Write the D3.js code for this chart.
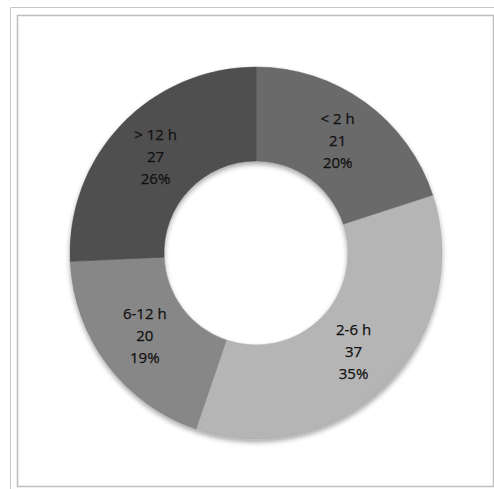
<!DOCTYPE html>
<html>
<head>
<meta charset="utf-8">
<script src="https://cdn.jsdelivr.net/npm/d3@7"></script>
<style>
    body { margin: 0; background: #fff; }
</style>
</head>
<body>
<div id="chart"></div>
<script>
var categories = ['< 2 h', '2-6 h', '6-12 h', '> 12 h'];
var values = [21, 37, 20, 27];
var percentLabels = ['20%', '35%', '19%', '26%'];
var sliceColors = ['#686868', '#b0b0b0', '#838383', '#4d4d4d'];

var width = 494,
    height = 489,
    cx = 256,
    cy = 253,
    outerRadius = 186,
    innerRadius = 92;

var svg = d3.select('#chart').append('svg')
    .attr('width', width)
    .attr('height', height);

var defs = svg.append('defs');

/* soft shadow under the ring, like the spreadsheet export */
var shadow = defs.append('filter')
    .attr('id', 'ringShadow')
    .attr('x', '-10%').attr('y', '-10%')
    .attr('width', '120%').attr('height', '125%');
shadow.append('feDropShadow')
    .attr('dx', 0)
    .attr('dy', 3)
    .attr('stdDeviation', 2.5)
    .attr('flood-color', '#000')
    .attr('flood-opacity', 0.35);

/* frame lines */
svg.append('path')
    .attr('d', 'M10.5,489 L10.5,7.5 L494,7.5')
    .attr('fill', 'none')
    .attr('stroke', '#c8c8c8')
    .attr('stroke-width', 1);

svg.append('rect')
    .attr('x', 17.5)
    .attr('y', 15.5)
    .attr('width', 476)
    .attr('height', 471)
    .attr('fill', '#fff')
    .attr('stroke', '#bdbdbd')
    .attr('stroke-width', 1.5);

/* radial shading per slice */
sliceColors.forEach(function(c, i) {
    var g = defs.append('radialGradient')
        .attr('id', 'shade' + i)
        .attr('gradientUnits', 'userSpaceOnUse')
        .attr('cx', cx).attr('cy', cy)
        .attr('r', outerRadius);
    g.append('stop').attr('offset', innerRadius / outerRadius).attr('stop-color', d3.color(c).darker(0.15));
    g.append('stop').attr('offset', 0.8).attr('stop-color', c);
    g.append('stop').attr('offset', 1).attr('stop-color', d3.color(c).brighter(0.08));
});

var pie = d3.pie()
    .sort(null)
    .value(function(d) { return d; });

var arcs = pie(values);

var arc = d3.arc()
    .innerRadius(innerRadius)
    .outerRadius(outerRadius);

var labelArc = d3.arc()
    .innerRadius((innerRadius + outerRadius) / 2)
    .outerRadius((innerRadius + outerRadius) / 2);

var ring = svg.append('g')
    .attr('transform', 'translate(' + cx + ',' + cy + ')');

ring.append('g')
    .attr('filter', 'url(#ringShadow)')
    .selectAll('path')
    .data(arcs)
    .enter()
    .append('path')
    .attr('d', arc)
    .attr('fill', function(d, i) { return 'url(#shade' + i + ')'; })
    .attr('stroke', function(d, i) { return d3.color(sliceColors[i]).darker(0.2); })
    .attr('stroke-width', 0.5);

var labels = ring.selectAll('g.label')
    .data(arcs)
    .enter()
    .append('g')
    .attr('class', 'label')
    .attr('transform', function(d) {
        var p = labelArc.centroid(d);
        return 'translate(' + p[0] + ',' + p[1] + ')';
    });

labels.append('text')
    .attr('text-anchor', 'middle')
    .attr('font-family', 'Open Sans, Lato, sans-serif')
    .attr('font-size', 15)
    .attr('fill', '#111')
    .attr('stroke', '#111')
    .attr('stroke-width', 0.25)
    .each(function(d, i) {
        var lines = [categories[i], values[i], percentLabels[i]];
        var t = d3.select(this);
        lines.forEach(function(line, k) {
            t.append('tspan')
                .attr('x', 0)
                .attr('y', (k - 1) * 22 + 5)
                .text(line);
        });
    });
</script>
</body>
</html>
